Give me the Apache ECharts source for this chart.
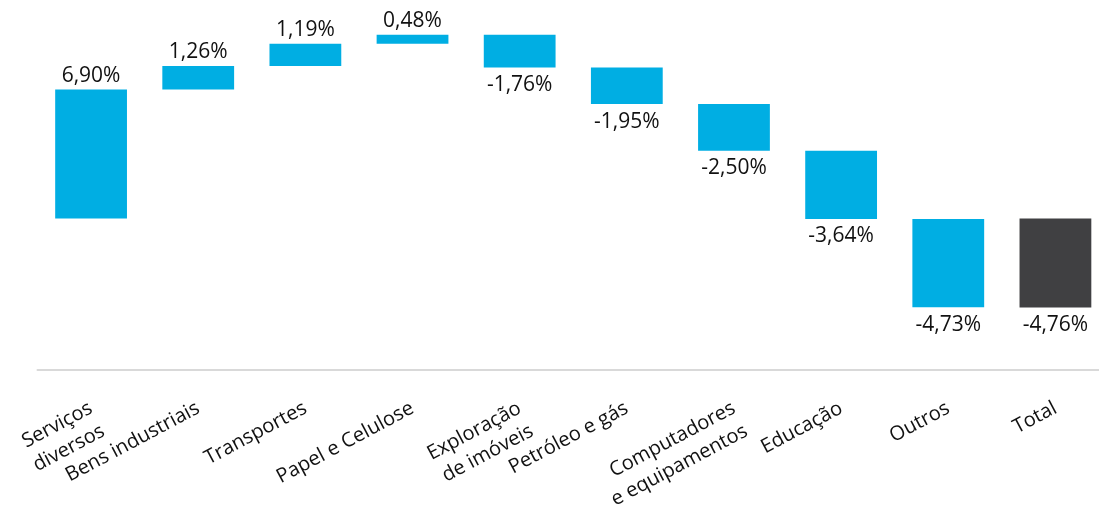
<!DOCTYPE html>
<html>
<head>
<meta charset="utf-8">
<title>Contribuição por setor</title>
<script src="https://cdn.jsdelivr.net/npm/echarts@6/dist/echarts.min.js"></script>
<style>
  html, body { margin: 0; padding: 0; background: #ffffff; }
  #chart { width: 1099px; height: 511px; }
</style>
</head>
<body>
<div id="chart"></div>
<script>
// Sector contributions (percentage points), followed by the total
const categories = [
  'Serviços\ndiversos', 'Bens industriais', 'Transportes', 'Papel e Celulose',
  'Exploração\nde imóveis', 'Petróleo e gás', 'Computadores\ne equipamentos',
  'Educação', 'Outros', 'Total'
];
const changes = [6.90, 1.26, 1.19, 0.48, -1.76, -1.95, -2.50, -3.64, -4.73];
const totalValue = -4.76;

const BLUE = '#00AEE3';
const DARK = '#404042';
const FONT = '"Open Sans", "Noto Sans", sans-serif';

// Build [categoryIndex, start, end, shownValue, isTotal] rows for the waterfall
const rows = [];
let running = 0;
changes.forEach((v, i) => {
  rows.push([i, running, running + v, v, 0]);
  running += v;
});
rows.push([changes.length, 0, totalValue, totalValue, 1]);

const fmt = v => v.toFixed(2).replace('.', ',') + '%';

function renderItem(params, api) {
  const idx = api.value(0);
  const start = api.value(1);
  const end = api.value(2);
  const shown = api.value(3);
  const isTotal = api.value(4) === 1;
  const p0 = api.coord([idx, start]);
  const p1 = api.coord([idx, end]);
  const w = api.size([1, 0])[0] * 0.67;
  const up = shown >= 0;
  return {
    type: 'rect',
    shape: {
      x: p0[0] - w / 2,
      y: Math.min(p0[1], p1[1]),
      width: w,
      height: Math.abs(p1[1] - p0[1])
    },
    style: { fill: isTotal ? DARK : BLUE },
    textContent: {
      style: {
        text: fmt(shown),
        fontSize: 21,
        fontFamily: FONT,
        fill: '#111111'
      }
    },
    textConfig: {
      position: up ? 'top' : 'bottom',
      distance: up ? 3 : 7
    }
  };
}

const chart = echarts.init(document.getElementById('chart'), null, { renderer: 'canvas' });
chart.setOption({
  animation: false,
  backgroundColor: '#ffffff',
  grid: {
    left: 37.5,
    right: -10,
    top: 14.7,
    bottom: 141,
    containLabel: false,
    outerBoundsMode: 'none'
  },
  xAxis: {
    type: 'category',
    data: categories,
    axisLine: { show: true, onZero: false, lineStyle: { color: '#D9D9D9', width: 2 } },
    axisTick: { show: false },
    axisLabel: {
      interval: 0,
      rotate: 28,
      margin: 37,
      fontSize: 20,
      lineHeight: 26,
      fontFamily: FONT,
      color: '#111111',
      // an empty leading line keeps the first line of two-line names
      // level with the single-line names
      formatter: name => (name.indexOf('\n') >= 0 ? '\n' + name : name)
    },
    splitLine: { show: false }
  },
  yAxis: {
    type: 'value',
    min: -8.1,
    max: 10.9,
    show: false,
    splitLine: { show: false }
  },
  series: [{
    type: 'custom',
    renderItem: renderItem,
    encode: { x: 0, y: [1, 2] },
    data: rows
  }]
});
</script>
</body>
</html>
